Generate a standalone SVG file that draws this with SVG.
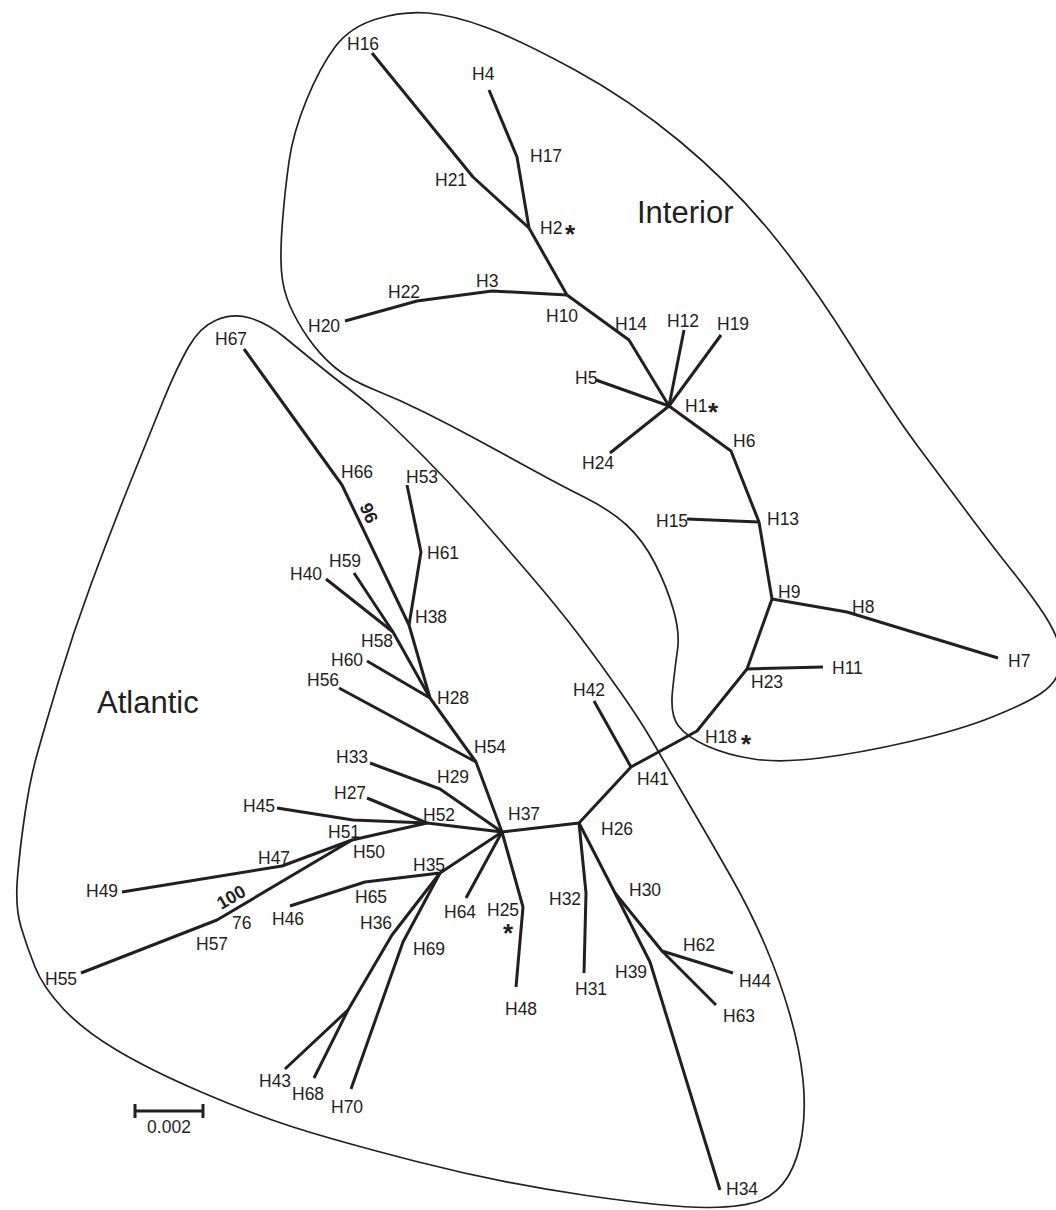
<svg xmlns="http://www.w3.org/2000/svg" width="1056" height="1210" viewBox="0 0 1056 1210">
<style>
  .bg { fill: #ffffff; }
  .hull { fill: none; stroke: #231f20; stroke-width: 1.7; }
  .edge { fill: none; stroke: #231f20; stroke-width: 3; stroke-linejoin: round; stroke-linecap: butt; }
  .lbl { font-family: "Liberation Sans", Arial, sans-serif; font-size: 17.5px; fill: #231f20; }
  .ast { font-family: "Liberation Sans", Arial, sans-serif; font-size: 26px; font-weight: bold; fill: #231f20; text-anchor: middle; }
  .boot { font-family: "Liberation Sans", Arial, sans-serif; font-size: 18px; font-weight: bold; fill: #231f20; text-anchor: middle; }
  .group { font-family: "Liberation Sans", Arial, sans-serif; font-size: 31px; fill: #231f20; }
</style>
<rect class="bg" x="0" y="0" width="1056" height="1210"/>

<g id="clusters">
  <path id="interior-outline" class="hull" d="M376.5,19 Q403,11 428,13 Q453,15 486.5,27.5 Q520,40 575,70 Q630,100 680,141.5 Q730,183 770,231.5 Q810,280 851.5,346.5 Q893,413 918,446.5 Q943,480 968,513.5 Q993,547 1013,572 Q1033,597 1044.5,615 Q1056,633 1059,645.5 Q1062,658 1059,670.5 Q1056,683 1041.5,693 Q1027,703 993.5,716.5 Q960,730 910,741.5 Q860,753 820,758 Q780,763 753.5,759 Q727,755 707,746 Q687,737 678.5,726 Q670,715 672.5,691 Q675,667 677.5,650 Q680,633 673.5,610 Q667,587 655,563.5 Q643,540 626.5,525 Q610,510 585,497.5 Q560,485 530,468.5 Q500,452 475,438.5 Q450,425 425,412.5 Q400,400 375,390 Q350,380 335,367.5 Q320,355 308.5,338.5 Q297,322 290,306 Q283,290 281.5,271.5 Q280,253 282.5,221.5 Q285,190 289,161.5 Q293,133 306.5,100 Q320,67 335,47 Q350,27 376.5,19 Z"/>
  <path id="atlantic-outline" class="hull" d="M216.5,320 Q233,313 250,318 Q267,323 283.5,336.5 Q300,350 316.5,363.5 Q333,377 351.5,391 Q370,405 385,419 Q400,433 425,458 Q450,483 475,511.5 Q500,540 530,575 Q560,610 580,636.5 Q600,663 620,691.5 Q640,720 652.5,741.5 Q665,763 687.5,801.5 Q710,840 730,875 Q750,910 765,945 Q780,980 790,1015 Q800,1050 803,1080 Q806,1110 802,1135 Q798,1160 788,1176.5 Q778,1193 761.5,1200 Q745,1207 709,1207.5 Q673,1208 586.5,1195.5 Q500,1183 416.5,1161.5 Q333,1140 291.5,1126.5 Q250,1113 200,1091.5 Q150,1070 116.5,1050 Q83,1030 63,1008.5 Q43,987 35,967 Q27,947 21,927 Q15,907 17.5,877 Q20,847 25,813.5 Q30,780 36.5,756.5 Q43,733 58,683 Q73,633 91.5,583 Q110,533 130,483 Q150,433 163.5,400 Q177,367 188.5,347 Q200,327 216.5,320 Z"/>
  <text class="group" x="637" y="223">Interior</text>
  <text class="group" x="97" y="713">Atlantic</text>
</g>

<g id="connectors">
  <path class="edge" d="M372,53 L473,177 L529,228"/>
  <path class="edge" d="M489,90 L517,157 L529,228"/>
  <path class="edge" d="M529,228 L567,295"/>
  <path class="edge" d="M345,321 L417,301 L492,291 L567,295"/>
  <path class="edge" d="M567,295 L629,340 L669,406"/>
  <path class="edge" d="M669,406 L684,330"/>
  <path class="edge" d="M669,406 L721,335"/>
  <path class="edge" d="M669,406 L596,380"/>
  <path class="edge" d="M669,406 L610,453"/>
  <path class="edge" d="M669,406 L731,451 L759,522 L772,599 L747,669 L697,731 L631,767 L579,823 L502,832"/>
  <path class="edge" d="M759,522 L687,519"/>
  <path class="edge" d="M772,599 L847,612 L998,658"/>
  <path class="edge" d="M747,669 L823,667"/>
  <path class="edge" d="M631,767 L594,701"/>
  <path class="edge" d="M579,823 L586,893 L584,973"/>
  <path class="edge" d="M579,823 L615,893 L662,951 L733,973"/>
  <path class="edge" d="M662,951 L716,1005"/>
  <path class="edge" d="M615,893 L650,962 L720,1190"/>
  <path class="edge" d="M502,832 L523,907 L516,987"/>
  <path class="edge" d="M502,832 L476,762 L430,698 L409,625 L342,485 L244,349"/>
  <path class="edge" d="M409,625 L421,552 L407,485"/>
  <path class="edge" d="M430,698 L393,632 L354,573"/>
  <path class="edge" d="M393,632 L326,579"/>
  <path class="edge" d="M430,698 L367,661"/>
  <path class="edge" d="M476,762 L339,688"/>
  <path class="edge" d="M502,832 L440,789 L370,763"/>
  <path class="edge" d="M502,832 L427,823 L353,820 L277,808"/>
  <path class="edge" d="M427,823 L367,798"/>
  <path class="edge" d="M427,823 L352,840 L282,866 L122,892"/>
  <path class="edge" d="M352,840 L217,920 L81,973"/>
  <path class="edge" d="M502,832 L440,873 L365,882 L290,906"/>
  <path class="edge" d="M440,873 L392,935 L348,1010 L285,1069"/>
  <path class="edge" d="M348,1010 L314,1078"/>
  <path class="edge" d="M440,873 L403,942 L351,1089"/>
  <path class="edge" d="M502,832 L466,898"/>
</g>

<g id="bootstrap">
  <text class="boot" transform="translate(369,513) rotate(67)" dy="0.35em">96</text>
  <text class="boot" transform="translate(231,897) rotate(-30)" dy="0.35em">100</text>
  <text class="lbl" x="232" y="929">76</text>
</g>

<g id="scale-bar">
  <path class="edge" d="M135,1111 H203 M135,1104 V1118 M203,1104 V1118"/>
  <text class="lbl" x="169" y="1133" text-anchor="middle">0.002</text>
</g>

<g id="H1"><text class="lbl" x="685" y="412">H1</text><text class="ast" x="713" y="421">*</text></g>
<g id="H2"><text class="lbl" x="540" y="234">H2</text><text class="ast" x="570" y="243">*</text></g>
<g id="H3"><text class="lbl" x="476" y="287">H3</text></g>
<g id="H4"><text class="lbl" x="472" y="80">H4</text></g>
<g id="H5"><text class="lbl" x="575" y="384">H5</text></g>
<g id="H6"><text class="lbl" x="733" y="447">H6</text></g>
<g id="H7"><text class="lbl" x="1008" y="667">H7</text></g>
<g id="H8"><text class="lbl" x="852" y="613">H8</text></g>
<g id="H9"><text class="lbl" x="778" y="598">H9</text></g>
<g id="H10"><text class="lbl" x="546" y="322">H10</text></g>
<g id="H11"><text class="lbl" x="832" y="674">H11</text></g>
<g id="H12"><text class="lbl" x="667" y="327">H12</text></g>
<g id="H13"><text class="lbl" x="767" y="525">H13</text></g>
<g id="H14"><text class="lbl" x="615" y="330">H14</text></g>
<g id="H15"><text class="lbl" x="656" y="527">H15</text></g>
<g id="H16"><text class="lbl" x="347" y="50">H16</text></g>
<g id="H17"><text class="lbl" x="530" y="162">H17</text></g>
<g id="H18"><text class="lbl" x="705" y="743">H18</text><text class="ast" x="746" y="753">*</text></g>
<g id="H19"><text class="lbl" x="717" y="330">H19</text></g>
<g id="H20"><text class="lbl" x="308" y="332">H20</text></g>
<g id="H21"><text class="lbl" x="435" y="186">H21</text></g>
<g id="H22"><text class="lbl" x="388" y="298">H22</text></g>
<g id="H23"><text class="lbl" x="751" y="688">H23</text></g>
<g id="H24"><text class="lbl" x="582" y="469">H24</text></g>
<g id="H25"><text class="lbl" x="487" y="916">H25</text><text class="ast" x="508" y="942">*</text></g>
<g id="H26"><text class="lbl" x="601" y="835">H26</text></g>
<g id="H27"><text class="lbl" x="334" y="799">H27</text></g>
<g id="H28"><text class="lbl" x="437" y="704">H28</text></g>
<g id="H29"><text class="lbl" x="437" y="783">H29</text></g>
<g id="H30"><text class="lbl" x="629" y="896">H30</text></g>
<g id="H31"><text class="lbl" x="575" y="995">H31</text></g>
<g id="H32"><text class="lbl" x="549" y="905">H32</text></g>
<g id="H33"><text class="lbl" x="336" y="763">H33</text></g>
<g id="H34"><text class="lbl" x="726" y="1195">H34</text></g>
<g id="H35"><text class="lbl" x="413" y="871">H35</text></g>
<g id="H36"><text class="lbl" x="360" y="929">H36</text></g>
<g id="H37"><text class="lbl" x="508" y="820">H37</text></g>
<g id="H38"><text class="lbl" x="415" y="623">H38</text></g>
<g id="H39"><text class="lbl" x="615" y="978">H39</text></g>
<g id="H40"><text class="lbl" x="290" y="580">H40</text></g>
<g id="H41"><text class="lbl" x="637" y="785">H41</text></g>
<g id="H42"><text class="lbl" x="573" y="696">H42</text></g>
<g id="H43"><text class="lbl" x="259" y="1087">H43</text></g>
<g id="H44"><text class="lbl" x="739" y="987">H44</text></g>
<g id="H45"><text class="lbl" x="243" y="812">H45</text></g>
<g id="H46"><text class="lbl" x="272" y="925">H46</text></g>
<g id="H47"><text class="lbl" x="258" y="864">H47</text></g>
<g id="H48"><text class="lbl" x="505" y="1015">H48</text></g>
<g id="H49"><text class="lbl" x="86" y="897">H49</text></g>
<g id="H50"><text class="lbl" x="353" y="858">H50</text></g>
<g id="H51"><text class="lbl" x="328" y="838">H51</text></g>
<g id="H52"><text class="lbl" x="423" y="821">H52</text></g>
<g id="H53"><text class="lbl" x="406" y="483">H53</text></g>
<g id="H54"><text class="lbl" x="474" y="753">H54</text></g>
<g id="H55"><text class="lbl" x="45" y="985">H55</text></g>
<g id="H56"><text class="lbl" x="307" y="686">H56</text></g>
<g id="H57"><text class="lbl" x="196" y="950">H57</text></g>
<g id="H58"><text class="lbl" x="361" y="647">H58</text></g>
<g id="H59"><text class="lbl" x="329" y="567">H59</text></g>
<g id="H60"><text class="lbl" x="331" y="666">H60</text></g>
<g id="H61"><text class="lbl" x="427" y="559">H61</text></g>
<g id="H62"><text class="lbl" x="683" y="951">H62</text></g>
<g id="H63"><text class="lbl" x="723" y="1022">H63</text></g>
<g id="H64"><text class="lbl" x="444" y="918">H64</text></g>
<g id="H65"><text class="lbl" x="355" y="903">H65</text></g>
<g id="H66"><text class="lbl" x="341" y="478">H66</text></g>
<g id="H67"><text class="lbl" x="215" y="345">H67</text></g>
<g id="H68"><text class="lbl" x="292" y="1100">H68</text></g>
<g id="H69"><text class="lbl" x="413" y="955">H69</text></g>
<g id="H70"><text class="lbl" x="331" y="1113">H70</text></g>
</svg>
